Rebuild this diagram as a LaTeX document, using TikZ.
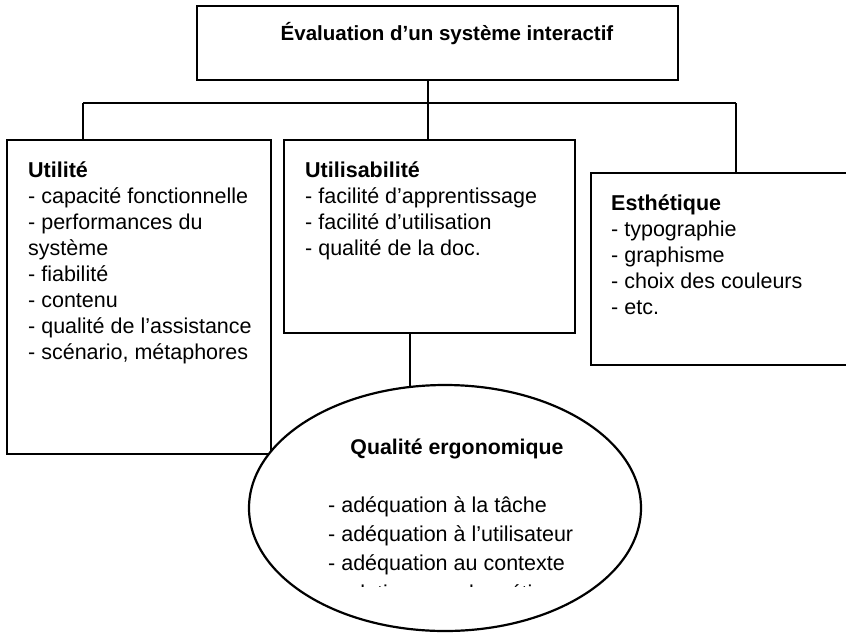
\documentclass[tikz,border=0pt]{standalone}
\usepackage{fontspec}
\setmainfont{Liberation Sans}
\usetikzlibrary{shapes.geometric,backgrounds}
\newcommand\mylines[1]{\begin{tabular}[t]{@{}l@{}}#1\end{tabular}}
\begin{document}
\begin{tikzpicture}[x=1pt,y=-1pt,
  frame/.style={draw=black,line width=2.2pt,inner sep=0pt,fill=white},
  conn/.style={draw=black,line width=2.2pt},
  txt/.style={anchor=base west,inner sep=0pt,font=\fontsize{21.5}{26}\selectfont},
  ctxt/.style={anchor=base,inner sep=0pt,font=\fontsize{21.3}{26}\selectfont\bfseries},
  elltxt/.style={anchor=base west,inner sep=0pt,font=\fontsize{21.5}{29}\selectfont}]
\useasboundingbox (0,0) rectangle (846,632);
\clip (0,0) rectangle (846,632);

% boxes
\node[frame,minimum width=481pt,minimum height=74pt] (top) at (437.5,43) {};
\node[frame,minimum width=264pt,minimum height=314pt] (util) at (139,297) {};
\node[frame,minimum width=291pt,minimum height=193pt] (usab) at (429.5,236.5) {};
\node[frame,minimum width=269pt,minimum height=192pt] (esth) at (725.5,269) {};
\node[frame,ellipse,minimum width=392pt,minimum height=246pt] (qual) at (445,508) {};

% junction coordinates
\coordinate (jL) at (83,103);
\coordinate (jM) at (428,103);
\coordinate (jR) at (736,103);
\coordinate (jQ) at (410,0);

\begin{pgfonlayer}{background}
\draw[conn] (top.south -| jM) -- (jM);
\draw[conn] (jL) -- (jR);
\draw[conn] (jL) -- (jL |- util.north);
\draw[conn] (jM) -- (jM |- usab.north);
\draw[conn] (jR) -- (jR |- esth.north);
\draw[conn] (usab.south -| jQ) -- (qual.north -| jQ) -- ++(0,6);
\end{pgfonlayer}

% texts
\node[ctxt,font=\fontsize{20.5}{24}\selectfont\bfseries] (ttop) at (447,40) {Évaluation d’un système interactif};

\node[txt] (tutil) at (28,177) {\mylines{\textbf{Utilité}\\
- capacité fonctionnelle\\
- performances du\\
système\\
- fiabilité\\
- contenu\\
- qualité de l’assistance\\
- scénario, métaphores}};

\node[txt] (tusab) at (305,177) {\mylines{\textbf{Utilisabilité}\\
- facilité d’apprentissage\\
- facilité d’utilisation\\
- qualité de la doc.}};

\node[txt] (testh) at (611,210) {\mylines{\textbf{Esthétique}\\
- typographie\\
- graphisme\\
- choix des couleurs\\
- etc.}};

\node[ctxt] (tqual) at (457,454) {Qualité ergonomique};

\node[elltxt] (tlist) at (328,512) {\mylines{- adéquation à la tâche\\
- adéquation à l’utilisateur\\
- adéquation au contexte}};

\begin{scope}
\clip (300,575) rectangle (620,586.5);
\node[elltxt] (tcut) at (328,600.5) {- relation avec le métier};
\end{scope}
\end{tikzpicture}
\end{document}
